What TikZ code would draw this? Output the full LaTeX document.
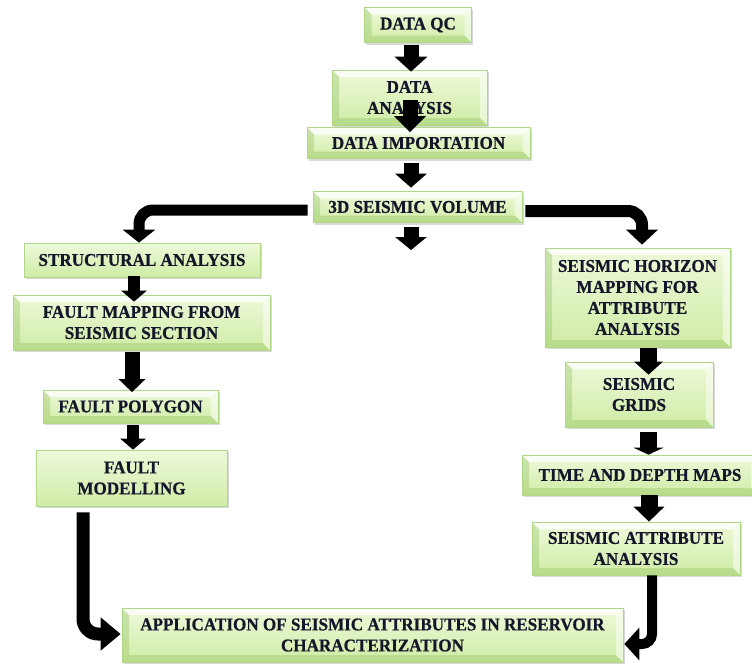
\documentclass[tikz,border=0pt]{standalone}
\usepackage{fontspec}
\setmainfont{Liberation Serif}[FakeStretch=0.95,BoldFeatures={FakeBold=0.6}]
\usetikzlibrary{arrows.meta,shadows}
\definecolor{gtop}{HTML}{EEF9DA}
\definecolor{gbot}{HTML}{CFECA6}
\definecolor{gedge}{HTML}{B0D688}
\definecolor{txt}{HTML}{16162A}
\definecolor{bevdark}{HTML}{8DBE58}
\tikzset{
  box/.style={draw=gedge, line width=0.7pt, top color=gtop, bottom color=gbot,
    align=center, inner sep=0pt, text=txt,
    font=\bfseries\fontsize{18}{21}\selectfont,
    drop shadow={shadow xshift=1.5pt, shadow yshift=-2pt, opacity=0.3}},
  bev/.style={path picture={
    \fill[white,opacity=.75] (path picture bounding box.north west) -- (path picture bounding box.north east)
      -- ([shift={(-7pt,-7pt)}]path picture bounding box.north east) -- ([shift={(7pt,-7pt)}]path picture bounding box.north west) -- cycle;
    \fill[bevdark,opacity=.35] (path picture bounding box.north west) -- (path picture bounding box.south west)
      -- ([shift={(7pt,7pt)}]path picture bounding box.south west) -- ([shift={(7pt,-7pt)}]path picture bounding box.north west) -- cycle;
    \fill[bevdark,opacity=.35] (path picture bounding box.south west) -- (path picture bounding box.south east)
      -- ([shift={(-7pt,7pt)}]path picture bounding box.south east) -- ([shift={(7pt,7pt)}]path picture bounding box.south west) -- cycle;
    \fill[white,opacity=.5] (path picture bounding box.north east) -- (path picture bounding box.south east)
      -- ([shift={(-7pt,7pt)}]path picture bounding box.south east) -- ([shift={(-7pt,-7pt)}]path picture bounding box.north east) -- cycle;
  }},
  blk/.style n args={3}{draw=black, line width=#1, -{Triangle[width=#2,length=#3]}},
}
\begin{document}
\begin{tikzpicture}[x=1pt,y=1pt]
\useasboundingbox (0,0) rectangle (752,-664);
% boxes
\node[box,bev,minimum width=107pt,minimum height=35pt] (qc) at (418,-25) {DATA QC};
\node[box,bev,minimum width=155pt,minimum height=55pt] (ana) at (409.5,-97.5) {DATA\\ANALYSIS};
\node[box,bev,minimum width=223pt,minimum height=31pt] (imp) at (418.5,-143) {DATA IMPORTATION};
\node[box,bev,minimum width=209pt,minimum height=31pt] (vol) at (417.5,-207) {3D SEISMIC VOLUME};
\node[box,minimum width=236pt,minimum height=34pt] (sa) at (142,-260) {STRUCTURAL ANALYSIS};
\node[box,bev,minimum width=257pt,minimum height=55pt] (fm) at (141.5,-322.5) {FAULT MAPPING FROM\\SEISMIC SECTION};
\node[box,bev,minimum width=175pt,minimum height=33pt] (fp) at (130.5,-406.5) {FAULT POLYGON};
\node[box,minimum width=191pt,minimum height=56pt] (fmod) at (131.5,-478) {FAULT\\MODELLING};
\node[box,bev,minimum width=185pt,minimum height=99pt] (sh) at (637.5,-297.5) {SEISMIC HORIZON\\MAPPING FOR\\ATTRIBUTE\\ANALYSIS};
\node[box,bev,minimum width=148pt,minimum height=65pt] (sg) at (639,-394.5) {SEISMIC\\GRIDS};
\node[box,bev,minimum width=236pt,minimum height=40pt] (td) at (640,-475) {TIME AND DEPTH MAPS};
\node[box,bev,minimum width=208pt,minimum height=53pt] (sa2) at (636,-548.5) {SEISMIC ATTRIBUTE\\ANALYSIS};
\node[box,bev,minimum width=501pt,minimum height=54pt] (app) at (372.5,-635) {APPLICATION OF SEISMIC ATTRIBUTES IN RESERVOIR\\CHARACTERIZATION};
% straight arrows
\draw[blk={15pt}{32pt}{15pt}] ([shift={(-7,-2.5)}]qc.south) -- ([shift={(1.5,-2)}]ana.north);
\draw[blk={15pt}{31pt}{16pt}] ([shift={(0.5,25)}]ana.south) -- ([shift={(-8.5,-5)}]imp.north);
\draw[blk={15pt}{31pt}{14pt}] ([shift={(-7.5,-4)}]imp.south) -- ([shift={(-6.5,3.5)}]vol.north);
\coordinate (volend) at (411,-250);
\draw[blk={15pt}{31pt}{13pt}] ([shift={(-6.5,-4.5)}]vol.south) -- (volend);
\draw[blk={12pt}{25pt}{11pt}] ([shift={(-8,1)}]sa.south) -- ([shift={(-7.5,-7)}]fm.north);
\draw[blk={15pt}{26pt}{13pt}] ([shift={(-9.5,-2)}]fm.south) -- ([shift={(1.5,-2.5)}]fp.north);
\draw[blk={12pt}{25pt}{11pt}] ([shift={(2.5,-2)}]fp.south) -- ([shift={(1.5,0)}]fmod.north);
\draw[blk={17pt}{28pt}{13pt}] ([shift={(11,-1)}]sh.south) -- ([shift={(9.5,-13)}]sg.north);
\draw[blk={17pt}{30pt}{7pt}] ([shift={(9.5,-5)}]sg.south) -- ([shift={(8.5,0)}]td.north);
\draw[blk={17pt}{30pt}{15pt}] ([shift={(9,0)}]td.south) -- ([shift={(13,0)}]sa2.north);
% bent arrows
\draw[blk={11pt}{32pt}{13pt}, rounded corners=14pt] ([shift={(-5,-3)}]vol.west) -| ([shift={(-3,0)}]sa.north);
\draw[blk={12pt}{31pt}{15pt}, rounded corners=14pt] ([shift={(3,-4)}]vol.east) -| ([shift={(4.5,3)}]sh.north);
\draw[blk={13pt}{32pt}{20pt}, rounded corners=15pt] ([shift={(-48.5,-6)}]fmod.south) |- ([shift={(-1,1)}]app.west);
\draw[blk={10pt}{32pt}{15pt}, rounded corners=10pt] ([shift={(16,0)}]sa2.south) |- ([shift={(1,-9)}]app.east);
\end{tikzpicture}
\end{document}
